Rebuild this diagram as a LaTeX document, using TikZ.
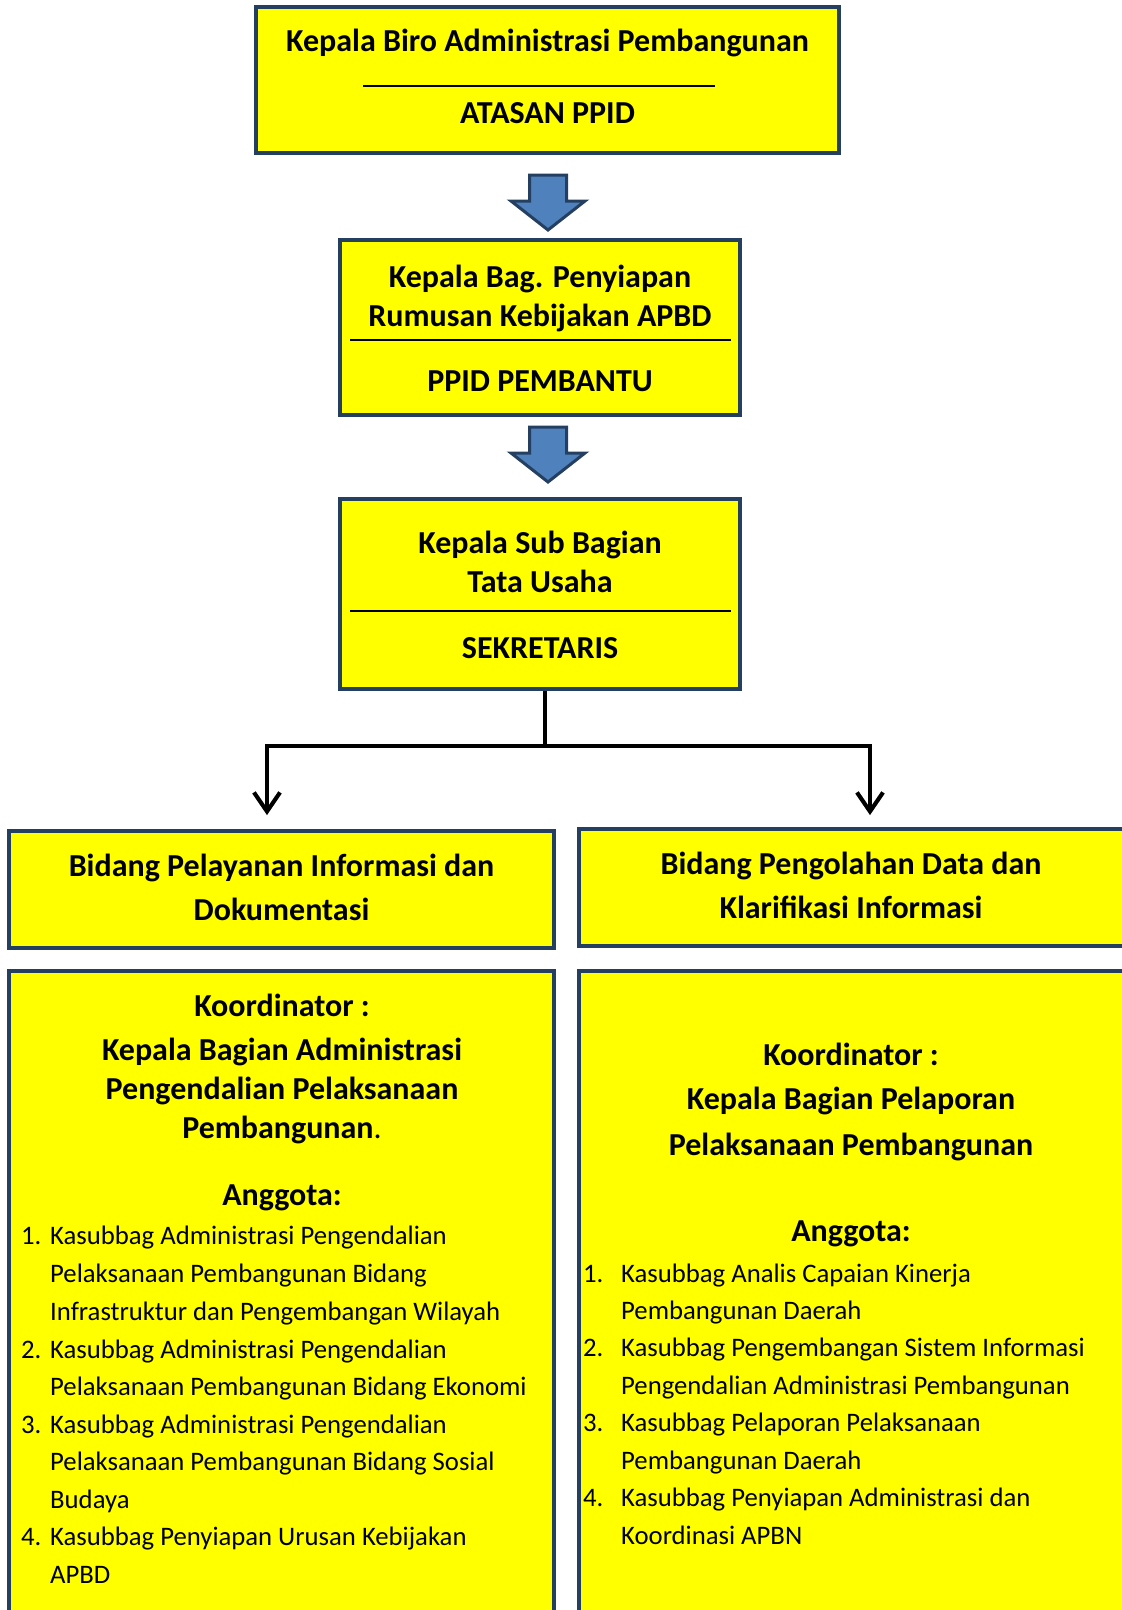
\documentclass[tikz,border=0pt]{standalone}
\usepackage{fontspec}
\setmainfont{Carlito}
\usetikzlibrary{arrows.meta,calc}
\definecolor{navy}{HTML}{243F60}
\definecolor{ayellow}{HTML}{FFFF00}
\definecolor{ablue}{HTML}{4F81BD}
\tikzset{
  box/.style={draw=navy, line width=4pt, fill=ayellow, inner sep=0pt},
  hd/.style={font=\bfseries\fontsize{32}{39}\selectfont, anchor=base, inner sep=0pt},
  lt/.style={font=\fontsize{26.7}{37.5}\selectfont, anchor=base west, inner sep=0pt},
  sepline/.style={line width=1.5pt, black},
  conn/.style={line width=4pt, black},
  connshadow/.style={line width=4pt, black!35},
  tipstyle/.style={-{Straight Barb[length=19pt,width=26pt,line width=4pt]}},
  blockarrow/.pic={
    \draw[draw=navy, line width=3pt, fill=ablue, line join=miter]
      (-18.5,0) -- (18.5,0) -- (18.5,26) -- (37,26) -- (0,55) -- (-37,26) -- (-18.5,26) -- cycle;
  }
}
\newcommand\lline[4]{\node[lt] (#1) at (#2,#3) {#4};}
\begin{document}
\begin{tikzpicture}[x=1pt,y=-1pt]
\useasboundingbox (0,0) rectangle (1122,1610);
\clip (0,0) rectangle (1122,1610);

% boxes
\node[box, minimum width=583pt, minimum height=146pt] (b1) at (547.5,80) {};
\node[box, minimum width=400pt, minimum height=175pt] (b2) at (540,327.5) {};
\node[box, minimum width=400pt, minimum height=190pt] (b3) at (540,594) {};
\node[box, minimum width=545pt, minimum height=117pt] (b4) at (281.5,889.5) {};
\node[box, minimum width=546pt, minimum height=117pt] (b5) at (852,887.5) {};
\node[box, minimum width=545pt, minimum height=659pt] (b6) at (281.5,1300.5) {};
\node[box, minimum width=546pt, minimum height=659pt] (b7) at (852,1300.5) {};

% box 1
\node[hd] (t1a) at (547.5,51) {Kepala Biro Administrasi Pembangunan};
\coordinate (s1l) at (363,86); \coordinate (s1r) at (715,86);
\draw[sepline] (s1l) -- (s1r);
\node[hd] (t1b) at (547.5,123) {ATASAN PPID};

% block arrows
\pic at (548,175) {blockarrow};
\pic at (548,427) {blockarrow};

% box 2
\node[hd] (t2a) at (540,287) {Kepala Bag. Penyiapan};
\node[hd] (t2b) at (540,326) {Rumusan Kebijakan APBD};
\coordinate (s2l) at (350,340); \coordinate (s2r) at (731,340);
\draw[sepline] (s2l) -- (s2r);
\node[hd] (t2c) at (540,391) {PPID PEMBANTU};

% box 3
\node[hd] (t3a) at (540,553) {Kepala Sub Bagian};
\node[hd] (t3b) at (540,592) {Tata Usaha};
\coordinate (s3l) at (350,611); \coordinate (s3r) at (731,611);
\draw[sepline] (s3l) -- (s3r);
\node[hd] (t3c) at (540,658) {SEKRETARIS};

% connectors
\coordinate (j) at (545,746);
\coordinate (jl) at (267,746);
\coordinate (jr) at (870,746);
\coordinate (tl) at (267,815);
\coordinate (tr) at (870,815);
\begin{scope}[shift={(2,4)}]
  \draw[connshadow] (b3.south -| j) -- (j);
  \draw[connshadow] (jl) -- (jr);
  \draw[connshadow, tipstyle] (jl) -- (tl);
  \draw[connshadow, tipstyle] (jr) -- (tr);
\end{scope}
\draw[conn] (b3.south -| j) -- (j);
\draw[conn, line cap=rect] (jl) -- (jr);
\draw[conn, tipstyle] (jl) -- (tl);
\draw[conn, tipstyle] (jr) -- (tr);

% box 4 / 5
\node[hd] (t4a) at (281.5,876) {Bidang Pelayanan Informasi dan};
\node[hd] (t4b) at (281.5,920) {Dokumentasi};
\node[hd] (t5a) at (851,874) {Bidang Pengolahan Data dan};
\node[hd] (t5b) at (851,918) {Klarifikasi Informasi};

% box 6
\node[hd] (k6) at (282,1016) {Koordinator :};
\node[hd] (k6a) at (282,1060) {Kepala Bagian Administrasi};
\node[hd] (k6b) at (282,1099) {Pengendalian Pelaksanaan};
\node[hd] (k6c) at (282,1138) {Pembangunan{\mdseries .}};
\node[hd] (a6) at (282,1205) {Anggota:};
\lline{n61}{21}{1244}{1.}
\lline{l61a}{50}{1244}{Kasubbag Administrasi Pengendalian}
\lline{l61b}{50}{1282}{Pelaksanaan Pembangunan Bidang}
\lline{l61c}{50}{1320}{Infrastruktur dan Pengembangan Wilayah}
\lline{n62}{21}{1358}{2.}
\lline{l62a}{50}{1358}{Kasubbag Administrasi Pengendalian}
\lline{l62b}{50}{1395}{Pelaksanaan Pembangunan Bidang Ekonomi}
\lline{n63}{21}{1433}{3.}
\lline{l63a}{50}{1433}{Kasubbag Administrasi Pengendalian}
\lline{l63b}{50}{1470}{Pelaksanaan Pembangunan Bidang Sosial}
\lline{l63c}{50}{1508}{Budaya}
\lline{n64}{21}{1545}{4.}
\lline{l64a}{50}{1545}{Kasubbag Penyiapan Urusan Kebijakan}
\lline{l64b}{50}{1583}{APBD}

% box 7
\node[hd] (k7) at (851,1065) {Koordinator :};
\node[hd] (k7a) at (851,1109) {Kepala Bagian Pelaporan};
\node[hd] (k7b) at (851,1155) {Pelaksanaan Pembangunan};
\node[hd] (a7) at (851,1241) {Anggota:};
\lline{n71}{583}{1282}{1.}
\lline{l71a}{621}{1282}{Kasubbag Analis Capaian Kinerja}
\lline{l71b}{621}{1319}{Pembangunan Daerah}
\lline{n72}{583}{1356}{2.}
\lline{l72a}{621}{1356}{Kasubbag Pengembangan Sistem Informasi}
\lline{l72b}{621}{1394}{Pengendalian Administrasi Pembangunan}
\lline{n73}{583}{1431}{3.}
\lline{l73a}{621}{1431}{Kasubbag Pelaporan Pelaksanaan}
\lline{l73b}{621}{1469}{Pembangunan Daerah}
\lline{n74}{583}{1506}{4.}
\lline{l74a}{621}{1506}{Kasubbag Penyiapan Administrasi dan}
\lline{l74b}{621}{1544}{Koordinasi APBN}
\end{tikzpicture}
\end{document}
